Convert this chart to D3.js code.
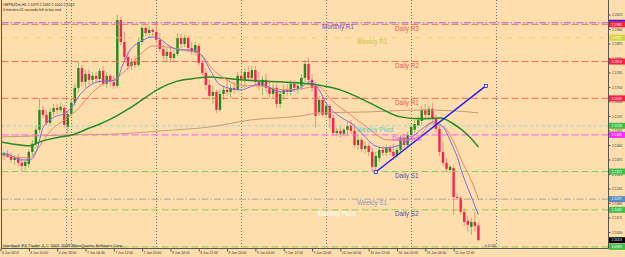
<!DOCTYPE html>
<html>
<head>
<meta charset="utf-8">
<script src="https://cdn.jsdelivr.net/npm/d3@7"></script>
<style>
  body { margin: 0; background: #ffdead; }
  svg { display: block; }
  text { font-family: "Liberation Sans", Arial, sans-serif; }
</style>
</head>
<body>
<svg id="chart" width="625" height="257"></svg>
<script>
// GBPNZDm H1, 4 Jun 2010 02:00 .. 11 Jun 2010
var symbol = "GBPNZDm,H1";
var countdown = "0 minutes 01 seconds left to bar end";
var copyright = "Interbank FX Trader 4, \u00a9 2001-2009 MetaQuotes Software Corp.";

// [open, high, low, close]
var candles = [
  [2.1405,2.1418,2.1382,2.1391],[2.1391,2.1409,2.1373,2.1400],[2.1400,2.1418,2.1382,2.1387],[2.1387,2.1405,2.1360,2.1373],
  [2.1373,2.1396,2.1351,2.1382],[2.1382,2.1400,2.1342,2.1360],[2.1360,2.1382,2.1319,2.1346],[2.1346,2.1373,2.1328,2.1364],
  [2.1355,2.1418,2.1337,2.1409],[2.1409,2.1463,2.1391,2.1445],[2.1445,2.1526,2.1427,2.1508],[2.1508,2.1651,2.1494,2.1597],
  [2.1597,2.1615,2.1561,2.1575],[2.1575,2.1597,2.1526,2.1539],[2.1539,2.1606,2.1526,2.1588],[2.1588,2.1624,2.1570,2.1606],
  [2.1606,2.1624,2.1579,2.1597],[2.1597,2.1629,2.1584,2.1611],[2.1606,2.1620,2.1517,2.1530],[2.1521,2.1588,2.1494,2.1579],
  [2.1579,2.1642,2.1566,2.1629],[2.1629,2.1714,2.1615,2.1696],[2.1696,2.1812,2.1678,2.1785],[2.1785,2.1799,2.1705,2.1723],
  [2.1723,2.1776,2.1696,2.1758],[2.1758,2.1776,2.1709,2.1732],[2.1732,2.1767,2.1714,2.1750],[2.1750,2.1767,2.1723,2.1736],
  [2.1736,2.1785,2.1718,2.1772],[2.1772,2.1794,2.1705,2.1714],[2.1714,2.1767,2.1696,2.1750],[2.1750,2.1758,2.1705,2.1723],
  [2.1723,2.1750,2.1691,2.1705],[2.1705,2.2023,2.1696,2.2000],[2.2000,2.2014,2.1888,2.1902],[2.1902,2.1947,2.1821,2.1835],
  [2.1835,2.1857,2.1776,2.1794],[2.1794,2.1830,2.1776,2.1812],[2.1812,2.1839,2.1785,2.1799],[2.1799,2.1920,2.1790,2.1902],
  [2.1902,2.1978,2.1888,2.1965],[2.1965,2.1974,2.1929,2.1942],[2.1942,2.1974,2.1920,2.1956],[2.1956,2.1965,2.1929,2.1947],
  [2.1947,2.1991,2.1897,2.1911],[2.1911,2.1942,2.1857,2.1870],[2.1870,2.1888,2.1821,2.1839],[2.1839,2.1875,2.1812,2.1857],
  [2.1857,2.1879,2.1808,2.1830],[2.1830,2.1866,2.1812,2.1848],[2.1848,2.1942,2.1839,2.1920],[2.1920,2.1938,2.1875,2.1893],
  [2.1893,2.1933,2.1879,2.1920],[2.1920,2.1929,2.1857,2.1875],[2.1875,2.1902,2.1844,2.1857],[2.1857,2.1902,2.1844,2.1888],
  [2.1884,2.1893,2.1794,2.1808],[2.1808,2.1821,2.1750,2.1763],[2.1763,2.1785,2.1687,2.1709],[2.1709,2.1732,2.1642,2.1660],
  [2.1660,2.1705,2.1624,2.1678],[2.1678,2.1687,2.1584,2.1597],[2.1597,2.1687,2.1588,2.1669],[2.1669,2.1705,2.1642,2.1687],
  [2.1687,2.1732,2.1660,2.1678],[2.1678,2.1714,2.1651,2.1696],[2.1696,2.1723,2.1669,2.1687],[2.1687,2.1767,2.1678,2.1750],
  [2.1750,2.1776,2.1714,2.1732],[2.1732,2.1785,2.1696,2.1767],[2.1767,2.1794,2.1723,2.1741],[2.1741,2.1794,2.1732,2.1776],
  [2.1776,2.1794,2.1705,2.1723],[2.1723,2.1767,2.1687,2.1705],[2.1705,2.1750,2.1664,2.1732],[2.1732,2.1758,2.1678,2.1696],
  [2.1696,2.1723,2.1651,2.1669],[2.1669,2.1714,2.1651,2.1696],[2.1696,2.1714,2.1606,2.1624],[2.1624,2.1687,2.1606,2.1669],
  [2.1669,2.1709,2.1642,2.1687],[2.1687,2.1714,2.1660,2.1678],[2.1678,2.1732,2.1660,2.1714],[2.1714,2.1732,2.1678,2.1696],
  [2.1696,2.1723,2.1669,2.1705],[2.1705,2.1758,2.1687,2.1741],[2.1741,2.1821,2.1723,2.1803],[2.1803,2.1830,2.1714,2.1732],
  [2.1732,2.1758,2.1678,2.1696],[2.1705,2.1723,2.1517,2.1570],[2.1588,2.1660,2.1570,2.1642],[2.1642,2.1664,2.1566,2.1575],
  [2.1575,2.1629,2.1561,2.1615],[2.1615,2.1624,2.1517,2.1561],[2.1561,2.1579,2.1481,2.1494],[2.1494,2.1517,2.1481,2.1503],
  [2.1503,2.1526,2.1472,2.1490],[2.1490,2.1517,2.1481,2.1508],[2.1508,2.1543,2.1481,2.1526],[2.1526,2.1552,2.1490,2.1503],
  [2.1503,2.1534,2.1427,2.1440],[2.1440,2.1485,2.1418,2.1463],[2.1463,2.1472,2.1409,2.1422],[2.1422,2.1454,2.1405,2.1436],
  [2.1436,2.1449,2.1391,2.1409],[2.1409,2.1427,2.1319,2.1342],[2.1342,2.1409,2.1319,2.1391],[2.1382,2.1436,2.1364,2.1418],
  [2.1418,2.1436,2.1391,2.1405],[2.1405,2.1440,2.1391,2.1427],[2.1427,2.1440,2.1391,2.1409],[2.1409,2.1445,2.1373,2.1391],
  [2.1391,2.1436,2.1382,2.1418],[2.1418,2.1485,2.1409,2.1472],[2.1472,2.1490,2.1427,2.1440],[2.1440,2.1499,2.1431,2.1485],
  [2.1485,2.1534,2.1472,2.1521],[2.1508,2.1552,2.1494,2.1534],[2.1526,2.1570,2.1517,2.1552],[2.1548,2.1615,2.1530,2.1597],
  [2.1597,2.1624,2.1561,2.1575],[2.1575,2.1615,2.1561,2.1602],[2.1602,2.1629,2.1543,2.1557],[2.1557,2.1575,2.1499,2.1512],
  [2.1512,2.1526,2.1391,2.1409],[2.1409,2.1454,2.1346,2.1360],[2.1360,2.1382,2.1319,2.1333],[2.1328,2.1351,2.1315,2.1342],
  [2.1337,2.1351,2.1127,2.1207],[2.1207,2.1221,2.1198,2.1203],[2.1203,2.1212,2.1127,2.1140],[2.1140,2.1158,2.1077,2.1095],
  [2.1100,2.1122,2.1051,2.1082],[2.1073,2.1113,2.1037,2.1095],[2.1095,2.1140,2.1051,2.1077],[2.1079,2.1092,2.1010,2.1013]
];

// moving averages, [bar, price] read at points along each curve
var maFast = [[0,2.1405],[2.6,2.1396],[5.5,2.1373],[8.3,2.1373],[10.3,2.1418],[12,2.1517],[14.8,2.1561],[18.8,2.1588],
  [20.2,2.1611],[22.4,2.1664],[24.4,2.1696],[27.3,2.1723],[32.9,2.1732],[34.3,2.1790],[36.6,2.1866],[39.4,2.1902],
  [42.8,2.1924],[45.1,2.1915],[47.3,2.1888],[50.7,2.1866],[54.1,2.1866],[57.3,2.1830],[59.2,2.1776],[62.1,2.1709],
  [67.7,2.1687],[73.4,2.1714],[79,2.1678],[84.7,2.1696],[87.5,2.1723],[89.5,2.1700],[92.3,2.1620],[96,2.1566],
  [99.7,2.1530],[102.5,2.1485],[105.4,2.1440],[108.2,2.1427],[113,2.1440],[116.7,2.1481],[119.5,2.1517],[122.4,2.1543],
  [125.2,2.1517],[127.2,2.1454],[129.1,2.1382],[130.6,2.1306],[132.8,2.1216],[135,2.1127]];
var maMid = [[0,2.1396],[3.5,2.1387],[8.3,2.1382],[10.3,2.1418],[13.9,2.1499],[18.8,2.1561],[21.6,2.1597],[25.3,2.1664],
  [28.1,2.1705],[32.9,2.1741],[36,2.1785],[39.4,2.1844],[43.1,2.1884],[47.1,2.1879],[51.6,2.1866],[56.4,2.1848],
  [60.1,2.1776],[64,2.1732],[67.7,2.1705],[73.4,2.1705],[79,2.1687],[84.7,2.1691],[89.5,2.1705],[94,2.1633],
  [98.9,2.1575],[103.7,2.1517],[109.3,2.1463],[115,2.1463],[118.7,2.1485],[121.5,2.1534],[125.2,2.1521],[128,2.1454],
  [130.8,2.1351],[132.3,2.1306],[135,2.1198]];
var maSlow = [[0,2.1454],[5.5,2.1440],[8.3,2.1436],[11.1,2.1454],[16.8,2.1476],[20.2,2.1485],[25.3,2.1517],[28.1,2.1534],
  [32.3,2.1566],[36.6,2.1606],[40.8,2.1651],[44.2,2.1687],[49.3,2.1723],[53.6,2.1736],[59.2,2.1745],[67.7,2.1732],
  [79,2.1723],[84.7,2.1718],[91.2,2.1705],[96,2.1687],[98.9,2.1669],[105.4,2.1620],[113,2.1566],[118.7,2.1557],
  [124.3,2.1561],[128,2.1534],[132,2.1485],[135,2.1431]];
var maLong = [[0,2.1476],[20.2,2.1485],[33.8,2.1490],[45.1,2.1503],[59.2,2.1521],[70.6,2.1552],[84.7,2.1570],
  [90.4,2.1584],[103.7,2.1588],[118.7,2.1597],[128,2.1593],[135,2.1584]];

var trendPoints = [[106, 2.1319], [137.1, 2.1705]];

var pivotNames = ["Monthly R1", "Daily R3", "Weekly R1", "Daily R2", "Daily R1", "Weekly Pivot",
                  "Daily Pivot", "Daily S1", "Weekly S1", "Daily S2", "Monthly Pivot", "Daily S3"];
var pivotPrices = [2.1988, 2.1981, 2.1921, 2.1814, 2.1649, 2.1526, 2.1485, 2.1321, 2.1197, 2.1149, 2.1150, 2.0983];

var priceTicks = [2.1050, 2.1115, 2.1180, 2.1245, 2.1310, 2.1375, 2.1440, 2.1505, 2.1570, 2.1635,
                  2.1700, 2.1765, 2.1830, 2.1895, 2.1960, 2.2025];
var timeBars = [0, 8, 16, 24, 32, 40, 48, 56, 64, 72, 80, 88, 96, 104, 112, 120, 128];
var timeLabels = ["4 Jun 2010", "4 Jun 10:00", "4 Jun 18:00", "7 Jun 04:00", "7 Jun 12:00", "7 Jun 20:00",
                  "8 Jun 04:00", "8 Jun 12:00", "8 Jun 20:00", "9 Jun 04:00", "9 Jun 12:00", "9 Jun 20:00",
                  "10 Jun 04:00", "10 Jun 12:00", "10 Jun 20:00", "11 Jun 04:00", "11 Jun 12:00"];
var separatorBars = [18.5, 20, 44, 68, 92, 116, 140];

// styles (label: false = text falls below the visible area, tagText: false = hidden under next tag)
var red = {line: "#f26a58", dash: "7,3", text: "#f0564c", tag: "#ff1f44", lx: 395};
var green = {line: "#8ccb58", dash: "7,3", text: "#4f4fb2", tag: "#44bf44", lx: 395};
var pivotStyle = {
  "Monthly R1":    {line: "#9070e0", dash: "7,2,1.5,2", text: "#5a52d2", tag: "#2222ff", tagText: false, lx: 322},
  "Daily R3":      red,
  "Weekly R1":     {line: "#d8d436", dash: "1.5,1.5,1.5,7", text: "#c9c83a", tag: "#d4d63a", lx: 357},
  "Daily R2":      red,
  "Daily R1":      red,
  "Weekly Pivot":  {line: "#a4d8cc", dash: "3.5,1.5,3.5,3", text: "#5ec4c4", tag: "#3fbf3f", lx: 357},
  "Daily Pivot":   {line: "#ff5af4", dash: "7,3", text: "#ec52ec", tag: "#ff2cff", lx: 392},
  "Daily S1":      green,
  "Weekly S1":     {line: "#aaa6a4", dash: "7,2,1.5,2", text: "#8c9ab8", tag: "#5a8cc0", lx: 357},
  "Daily S2":      green,
  "Monthly Pivot": {line: null, text: "#ffffff", tag: null, lx: 318},
  "Daily S3":      {line: "#8ccb58", dash: "7,3", text: "#4f4fb2", tag: "#44bf44", label: false, lx: 395}
};
var bullBody = "#1f8a1f", bearBody = "#ff1f4f", bullWick = "#8cc260", bearWick = "#f2907c";

var svg = d3.select("#chart");
var plotRight = 608.5, plotBottom = 248.5;

var x = d3.scaleLinear().domain([0, 135]).range([0.5, 478.4]);
var y = d3.scaleLinear().domain([2.0978, 2.2090]).range([248, 0]);
var fmt = d3.format(".4f");

svg.append("rect").attr("width", 625).attr("height", 257).attr("fill", "#ffdead");

svg.append("clipPath").attr("id", "clip")
  .append("rect").attr("x", 1.5).attr("y", 0).attr("width", plotRight - 1.5).attr("height", plotBottom);

var plot = svg.append("g").attr("clip-path", "url(#clip)");

// day separators
plot.selectAll(".sep")
  .data(separatorBars)
  .enter().append("line")
  .attr("class", "sep")
  .attr("x1", function(d) { return Math.round(x(d)) + 0.5; })
  .attr("x2", function(d) { return Math.round(x(d)) + 0.5; })
  .attr("y1", 0).attr("y2", plotBottom)
  .attr("stroke", "#7a7268").attr("stroke-width", 1).attr("stroke-dasharray", "1,2");

// candles
var bars = plot.selectAll(".bar")
  .data(candles)
  .enter().append("g")
  .attr("class", "bar");
bars.append("line")
  .attr("x1", function(d, i) { return x(i); })
  .attr("x2", function(d, i) { return x(i); })
  .attr("y1", function(d) { return y(d[1]); })
  .attr("y2", function(d) { return y(d[2]); })
  .attr("stroke", function(d) { return d[3] >= d[0] ? bullWick : bearWick; })
  .attr("stroke-width", 1);
bars.append("rect")
  .attr("x", function(d, i) { return x(i) - 1.2; })
  .attr("width", 2.4)
  .attr("y", function(d) { return y(Math.max(d[0], d[3])); })
  .attr("height", function(d) { return Math.max(1, Math.abs(y(d[0]) - y(d[3]))); })
  .attr("fill", function(d) { return d[3] >= d[0] ? bullBody : bearBody; });

// pivot lines
var pivots = pivotNames.map(function(n, i) { return {name: n, price: pivotPrices[i], s: pivotStyle[n]}; });
plot.selectAll(".pv")
  .data(pivots.filter(function(d) { return d.s.line; }))
  .enter().append("line")
  .attr("class", "pv")
  .attr("x1", 1.5).attr("x2", plotRight)
  .attr("y1", function(d) { return y(d.price); })
  .attr("y2", function(d) { return y(d.price); })
  .attr("stroke", function(d) { return d.s.line; })
  .attr("stroke-width", 1)
  .attr("stroke-dasharray", function(d) { return d.s.dash; });

// moving averages
var line = d3.line()
  .x(function(d) { return x(d[0]); })
  .y(function(d) { return y(d[1]); })
  .curve(d3.curveMonotoneX);
[[maLong, "#c49c7a", 1], [maSlow, "#238a23", 1.5], [maMid, "#f0806c", 1], [maFast, "#7070e4", 1]].forEach(function(m) {
  plot.append("path").attr("d", line(m[0]))
    .attr("fill", "none").attr("stroke", m[1]).attr("stroke-width", m[2]);
});

// trend line
plot.append("path").attr("d", d3.line().x(function(d) { return x(d[0]); }).y(function(d) { return y(d[1]); })(trendPoints))
  .attr("stroke", "#1a1aff").attr("stroke-width", 1.4).attr("fill", "none");
plot.selectAll(".tp")
  .data(trendPoints)
  .enter().append("rect")
  .attr("x", function(d) { return x(d[0]) - 1.5; })
  .attr("y", function(d) { return y(d[1]) - 1.5; })
  .attr("width", 3).attr("height", 3)
  .attr("fill", "#ffffff").attr("stroke", "#1a1aff").attr("stroke-width", 0.8);

// pivot labels
plot.selectAll(".pl")
  .data(pivots.filter(function(d) { return d.s.label !== false; }))
  .enter().append("text")
  .attr("x", function(d) { return d.s.lx; })
  .attr("y", function(d) { return y(d.price) + 6.3; })
  .attr("font-size", 6.3)
  .attr("fill", function(d) { return d.s.text; })
  .text(function(d) { return d.name; });

// frame
svg.append("line").attr("x1", 1.5).attr("x2", 1.5).attr("y1", 0).attr("y2", plotBottom).attr("stroke", "#555");

// price axis
var yAxis = d3.axisRight(y)
  .tickValues(priceTicks)
  .tickFormat(fmt)
  .tickSize(2)
  .tickSizeOuter(0);
var ya = svg.append("g")
  .attr("transform", "translate(" + plotRight + ",0)")
  .call(yAxis);
ya.select(".domain").attr("stroke", "#555").attr("d", "M0,0V" + plotBottom);
ya.selectAll(".tick line").attr("stroke", "#555");
ya.selectAll(".tick text").attr("x", 3.5).attr("font-size", 3.4).attr("fill", "#333")
  .attr("font-family", "Liberation Sans, Arial, sans-serif");

// price tags on the axis
var tags = pivots.filter(function(d) { return d.s.tag; });
var tg = svg.selectAll(".tag")
  .data(tags)
  .enter().append("g")
  .attr("transform", function(d) { return "translate(" + (plotRight + 0.5) + "," + y(d.price) + ")"; });
tg.append("rect").attr("x", 0).attr("y", -3).attr("width", 17).attr("height", 6)
  .attr("fill", function(d) { return d.s.tag; });
tg.filter(function(d) { return d.s.tagText !== false; })
  .append("text").attr("x", 2.5).attr("dy", "0.35em").attr("font-size", 3.4).attr("fill", "#fff")
  .text(function(d) { return fmt(d.price); });

var last = candles[candles.length - 1];
var cur = svg.append("g").attr("transform", "translate(" + (plotRight + 0.5) + "," + y(last[3]) + ")");
cur.append("rect").attr("y", -3).attr("width", 17).attr("height", 6).attr("fill", "#000");
cur.append("text").attr("x", 2.5).attr("dy", "0.35em").attr("font-size", 3.4).attr("fill", "#fff").text(fmt(last[3]));

// time axis
var xAxis = d3.axisBottom(x)
  .tickValues(timeBars)
  .tickFormat(function(d, i) { return timeLabels[i]; })
  .tickSize(3)
  .tickSizeOuter(0);
var xa = svg.append("g")
  .attr("transform", "translate(0," + plotBottom + ")")
  .call(xAxis);
xa.select(".domain").attr("stroke", "#555").attr("d", "M1.5,0H" + plotRight);
xa.selectAll(".tick line").attr("stroke", "#555");
xa.selectAll(".tick text").attr("text-anchor", "start").attr("x", 1).attr("y", 3.2)
  .attr("font-size", 3.4).attr("fill", "#333")
  .attr("font-family", "Liberation Sans, Arial, sans-serif");

// texts
svg.append("text").attr("x", 3).attr("y", 6).attr("font-size", 3.6).attr("fill", "#222")
  .text(symbol + "  " + last.map(fmt).join(" "));
svg.append("text").attr("x", 3).attr("y", 11).attr("font-size", 3.6).attr("fill", "#222").text(countdown);
svg.append("text").attr("x", 3).attr("y", 246.5).attr("font-size", 4.2).attr("fill", "#222").text(copyright);
svg.append("text").attr("x", x(135) + 6).attr("y", 246.5).attr("font-size", 4.2).attr("fill", "#333")
  .text("\u00ab 0:01");
</script>
</body>
</html>
